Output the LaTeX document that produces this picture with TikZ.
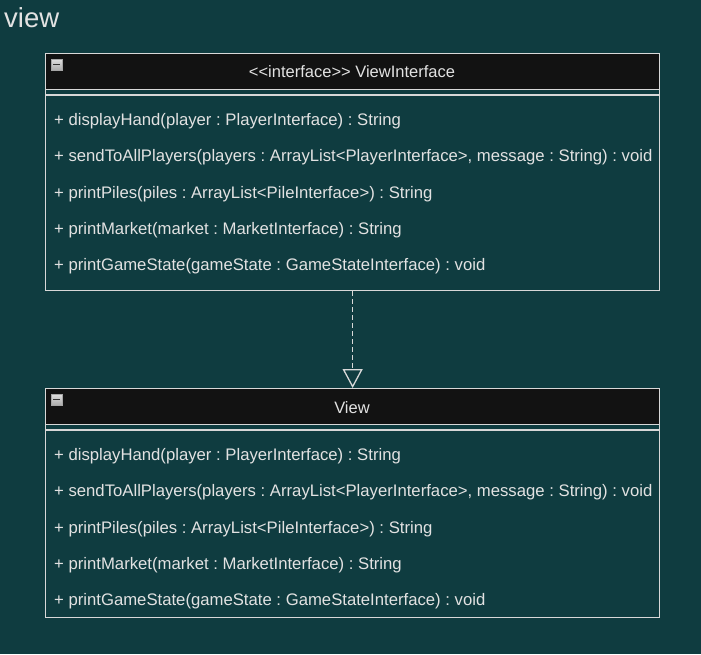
\documentclass[tikz,border=0pt]{standalone}
\usepackage{fontspec}
\setmainfont{Liberation Sans}[Ligatures=NoCommon]
\usetikzlibrary{arrows.meta,calc}
\definecolor{bg}{HTML}{0F3C40}
\definecolor{hdr}{HTML}{121212}
\definecolor{txt}{HTML}{E2E2E2}
\definecolor{edge}{HTML}{D8D8D8}
\tikzset{
  x=1pt,y=-1pt,
  classbox/.style={draw=edge,line width=1.3pt,minimum width=614pt,anchor=north west,inner sep=0pt},
  header/.style={draw=edge,line width=1.3pt,fill=hdr,minimum width=614pt,minimum height=36pt,anchor=north west,inner sep=0pt},
  hdrtext/.style={text=txt,font=\fontsize{16.5}{19}\selectfont\frenchspacing},
  method/.style={text=txt,font=\fontsize{16.7}{19}\selectfont\frenchspacing,anchor=west,inner sep=0pt},
  sep/.style={draw=edge,line width=1.3pt},
  realize/.style={draw=edge,line width=1.3pt,dash pattern=on 5pt off 3pt,-{Triangle[open,length=19pt,width=20pt,fill=bg]}},
  icon/.style={draw=gray!70,line width=0.8pt,top color=gray!25,bottom color=gray!65,minimum size=11pt,inner sep=0pt},
}
\begin{document}
\begin{tikzpicture}
\useasboundingbox[fill=bg] (0,0) rectangle (701,654);
\node[text=txt,font=\fontsize{27.5}{32}\selectfont,anchor=west,inner sep=0pt] (title) at (4,18) {view};

% ViewInterface
\node[classbox,minimum height=237pt] (box1) at (45,53) {};
\node[header] (h1) at (45,53) {};
\node[hdrtext] (h1t) at (352,72) {{<}{<}interface{>}{>} ViewInterface};
\node[icon] (i1) at (56.5,64.5) {};
\draw[line width=1.6pt,black!80] ($(i1.west)+(2.5,0)$) -- ($(i1.east)+(-2.5,0)$);
\coordinate (s1a) at (45,95);
\coordinate (s1b) at (659,95);
\draw[sep] (s1a) -- (s1b);
\node[method] (m11) at (54,121) {+ displayHand(player : PlayerInterface) : String};
\node[method] (m12) at (54,157) {+ sendToAllPlayers(players : ArrayList{<}PlayerInterface{>}, message : String) : void};
\node[method] (m13) at (54,194) {+ printPiles(piles : ArrayList{<}PileInterface{>}) : String};
\node[method] (m14) at (54,230) {+ printMarket(market : MarketInterface) : String};
\node[method] (m15) at (54,266) {+ printGameState(gameState : GameStateInterface) : void};

% View
\node[classbox,minimum height=229pt] (box2) at (45,388) {};
\node[header] (h2) at (45,388) {};
\node[hdrtext] (h2t) at (352,408) {View};
\node[icon] (i2) at (56.5,399.5) {};
\draw[line width=1.6pt,black!80] ($(i2.west)+(2.5,0)$) -- ($(i2.east)+(-2.5,0)$);
\coordinate (s2a) at (45,430);
\coordinate (s2b) at (659,430);
\draw[sep] (s2a) -- (s2b);
\node[method] (m21) at (54,456) {+ displayHand(player : PlayerInterface) : String};
\node[method] (m22) at (54,492) {+ sendToAllPlayers(players : ArrayList{<}PlayerInterface{>}, message : String) : void};
\node[method] (m23) at (54,529) {+ printPiles(piles : ArrayList{<}PileInterface{>}) : String};
\node[method] (m24) at (54,565) {+ printMarket(market : MarketInterface) : String};
\node[method] (m25) at (54,601) {+ printGameState(gameState : GameStateInterface) : void};

\draw[realize] (box1.south) -- (box2.north);
\end{tikzpicture}
\end{document}
